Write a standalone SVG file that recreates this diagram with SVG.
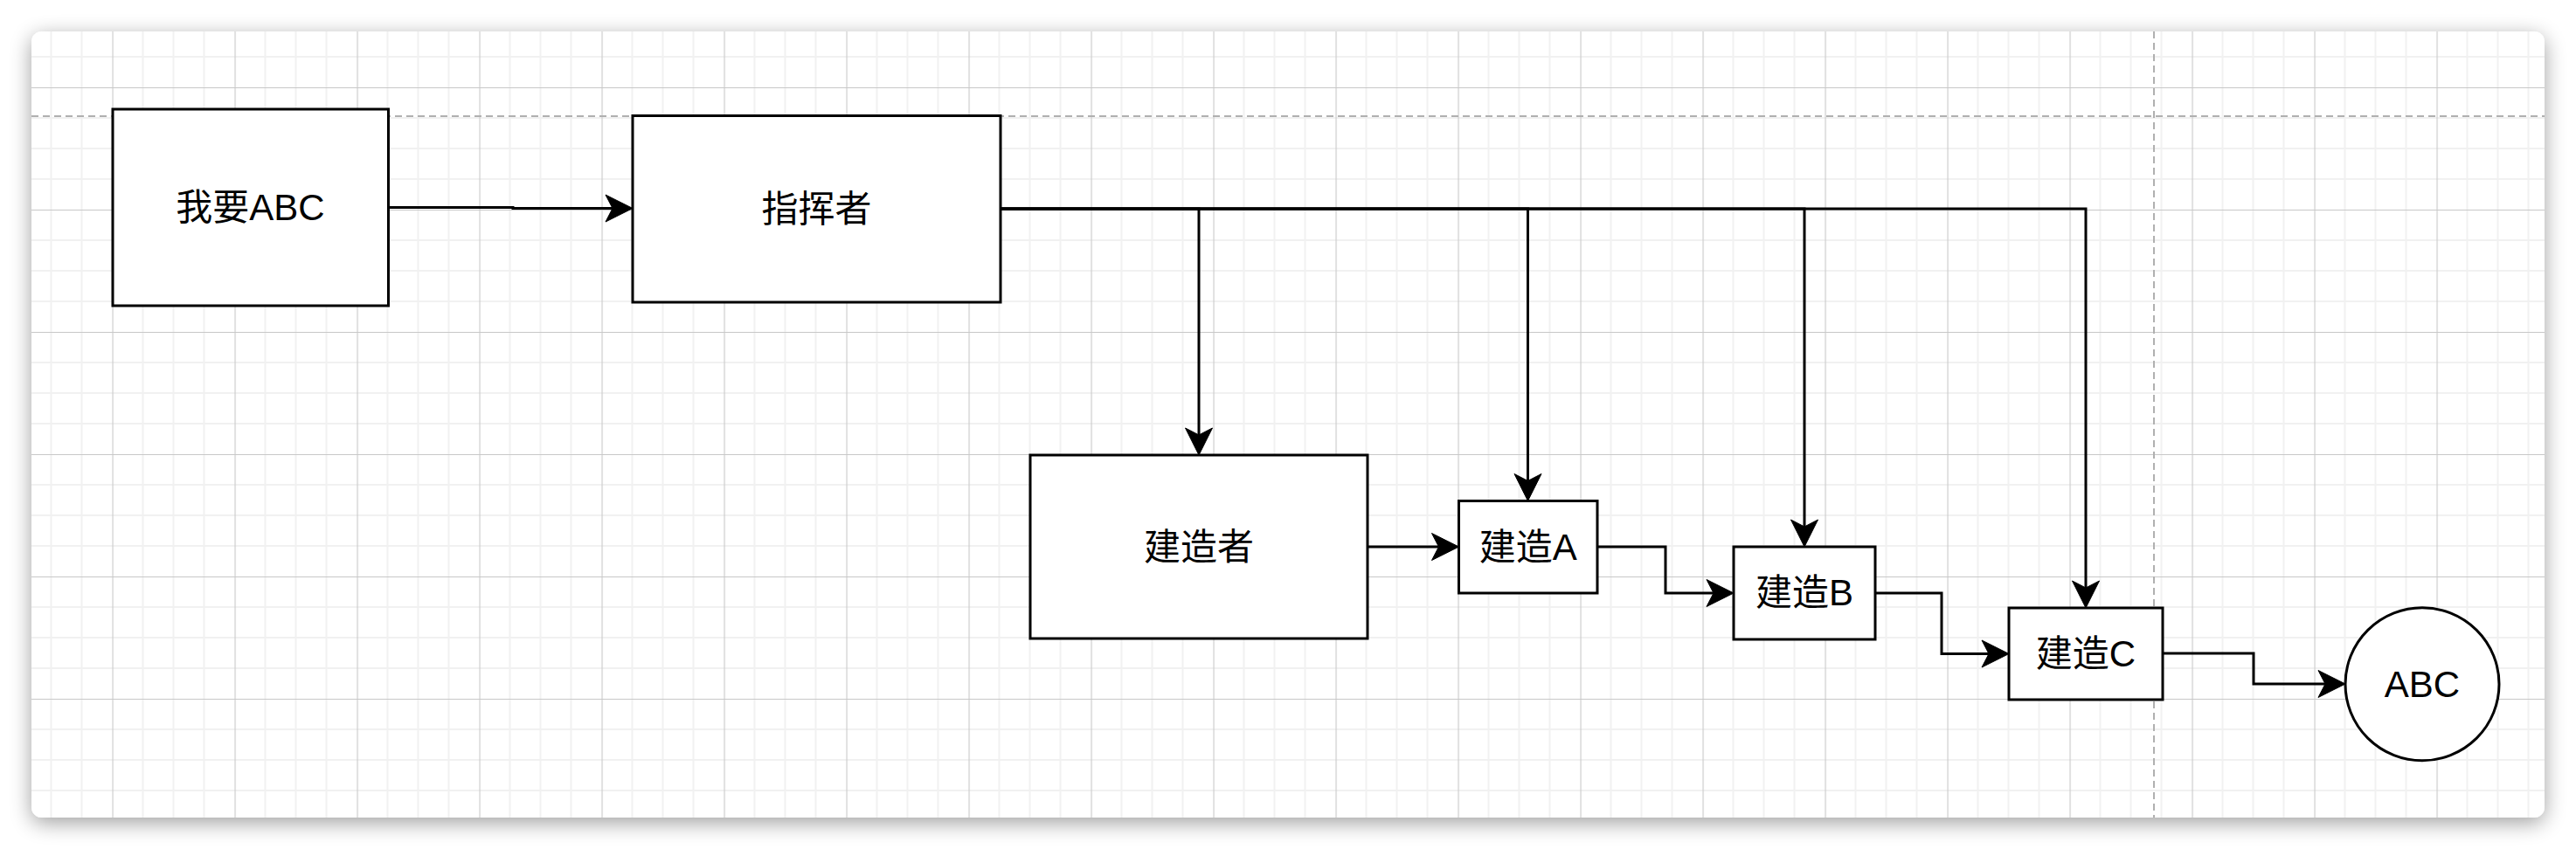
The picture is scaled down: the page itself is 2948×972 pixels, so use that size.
<svg xmlns="http://www.w3.org/2000/svg" width="2948" height="972" viewBox="0 0 2948 972">
  <defs>
    <filter id="shadow" x="-5%" y="-10%" width="110%" height="125%">
      <feGaussianBlur in="SourceAlpha" stdDeviation="12"/>
      <feOffset dx="0" dy="6" result="b"/>
      <feComponentTransfer><feFuncA type="linear" slope="0.38"/></feComponentTransfer>
      <feMerge><feMergeNode/><feMergeNode in="SourceGraphic"/></feMerge>
    </filter>
    <pattern id="grid" patternUnits="userSpaceOnUse" x="128.5" y="100" width="140" height="140">
      <path d="M35 0V140M70 0V140M105 0V140M0 35H140M0 70H140M0 105H140" stroke="#f1f1f1" stroke-width="2" fill="none"/>
      <path d="M0.5 0V140M0 0.5H140" stroke="#c8c8c8" stroke-width="1.2" fill="none"/>
    </pattern>
    <clipPath id="cardclip"><rect x="36" y="36" width="2876" height="900" rx="12"/></clipPath>
    <marker id="arrow" markerUnits="userSpaceOnUse" markerWidth="60" markerHeight="60" refX="0" refY="0" orient="auto" overflow="visible" viewBox="-30 -30 60 60">
      <path d="M23 0 L-8 -15.5 L0 0 L-8 15.5 Z" fill="#000" stroke="#000" stroke-width="1" stroke-linejoin="miter"/>
    </marker>
    <style>
      .node { fill: #ffffff; stroke: #000000; stroke-width: 3; }
      .label { font-family: "Liberation Sans", "Noto Sans CJK SC", sans-serif; font-size: 42px; fill: #000000; text-anchor: middle; }
      .edge { fill: none; stroke: #000000; stroke-width: 3; marker-end: url(#arrow); }
      .guide { fill: none; stroke: #b0b0b0; stroke-width: 2; stroke-dasharray: 8 5; }
    </style>
  </defs>

  <rect x="0" y="0" width="2948" height="972" fill="#ffffff"/>
  <rect x="36" y="36" width="2876" height="900" rx="12" fill="#ffffff" filter="url(#shadow)"/>
  <g clip-path="url(#cardclip)">
    <rect x="36" y="36" width="2876" height="900" fill="url(#grid)"/>
    <path class="guide" d="M36 133H2912"/>
    <path class="guide" d="M2465 36V936"/>
  </g>

  <g id="connectors">
    <path class="edge" d="M444.5 237.5H587V238.5H701"/>
    <path class="edge" d="M1145 239H1372V498"/>
    <path class="edge" d="M1145 239H1748.5V550.5"/>
    <path class="edge" d="M1145 239H2065V603"/>
    <path class="edge" d="M1145 239H2387V673"/>
    <path class="edge" d="M1565 626H1646.5"/>
    <path class="edge" d="M1828 626H1906V679H1961"/>
    <path class="edge" d="M2146 679H2222V748.5H2276"/>
    <path class="edge" d="M2475 748H2579V783H2661"/>
  </g>

  <g id="node-want">
    <rect class="node" x="129" y="125" width="315.5" height="225"/>
    <text class="label" x="286.5" y="252">我要ABC</text>
  </g>
  <g id="node-director">
    <rect class="node" x="724" y="132.5" width="421" height="213.5"/>
    <text class="label" x="934.5" y="253.5">指挥者</text>
  </g>
  <g id="node-builder">
    <rect class="node" x="1179" y="521" width="386" height="210"/>
    <text class="label" x="1372" y="640.5">建造者</text>
  </g>
  <g id="node-build-a">
    <rect class="node" x="1669.5" y="573.5" width="158.5" height="105.5"/>
    <text class="label" x="1748.75" y="640.5">建造A</text>
  </g>
  <g id="node-build-b">
    <rect class="node" x="1984" y="626" width="162" height="106"/>
    <text class="label" x="2065" y="693">建造B</text>
  </g>
  <g id="node-build-c">
    <rect class="node" x="2299" y="696" width="176" height="105"/>
    <text class="label" x="2387" y="762.5">建造C</text>
  </g>
  <g id="node-abc">
    <ellipse class="node" cx="2772" cy="783.25" rx="88" ry="87.5"/>
    <text class="label" x="2772" y="797.5">ABC</text>
  </g>
</svg>
